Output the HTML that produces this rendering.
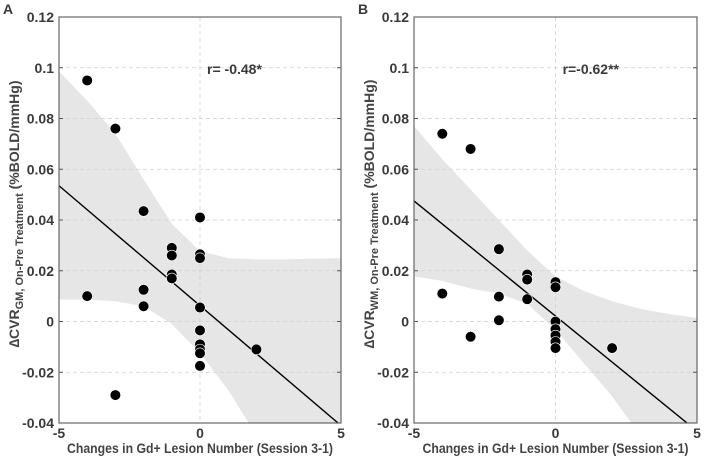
<!DOCTYPE html>
<html><head><meta charset="utf-8"><style>
html,body{margin:0;padding:0;background:#fff;overflow:hidden;}
svg{display:block;font-family:"Liberation Sans",sans-serif;}
.tick{font-size:14px;font-weight:bold;fill:#3a3a3a;}
.title{font-size:14px;font-weight:bold;fill:#444;}
</style></head><body>
<svg id="chart" width="704" height="461" viewBox="0 0 704 461"></svg>
<script>
// Panel A data
const aX = [-4,-3,-2,0,-1,-1,0,0,-1,-1,-4,-2,-2,0,0,0,0,0,2,0,-3];
const aY = [0.095,0.076,0.0435,0.041,0.029,0.026,0.0265,0.025,0.0185,0.017,0.010,0.0125,0.006,0.0055,-0.0035,-0.009,-0.011,-0.0125,-0.011,-0.0175,-0.029];
const aLine = [-5,0.0535,5,-0.041];
const bandXs = [-5,-4,-3,-2,-1,0,1,2,3,4,5];
const aUpper = [0.0986,0.087,0.074,0.056,0.0385,0.0277,0.025,0.0245,0.0245,0.0248,0.025];
const aLower = [0.0086,0.0086,0.008,0.006,-0.001,-0.0124,-0.027,-0.045,-0.065,-0.085,-0.105];
const aR = "r= -0.48*";
// Panel B data
const bX = [-4,-3,-2,-1,-1,0,0,-4,-2,-1,-2,-3,0,0,0,0,0,2];
const bY = [0.074,0.068,0.0285,0.0185,0.0165,0.0155,0.0135,0.011,0.0098,0.0088,0.0005,-0.006,0,-0.003,-0.0055,-0.008,-0.0105,-0.0105];
const bLine = [-5,0.0475,5,-0.0432];
const bUpper = [0.077,0.064,0.052,0.040,0.028,0.0178,0.012,0.008,0.005,0.003,0.0014];
const bLower = [0.0178,0.016,0.013,0.011,0.007,-0.0032,-0.0164,-0.0295,-0.045,-0.062,-0.08];
const bR = "r=-0.62**";
const yTicks = [-0.04,-0.02,0,0.02,0.04,0.06,0.08,0.1,0.12];
const yTickLabels = ["-0.04","-0.02","0","0.02","0.04","0.06","0.08","0.1","0.12"];
const xTicks = [-5,0,5];
const xTickLabels = ["-5","0","5"];

const NS="http://www.w3.org/2000/svg";
const svg=document.getElementById('chart');
function mk(tag,attrs,parent){const e=document.createElementNS(NS,tag);for(const k in attrs)e.setAttribute(k,attrs[k]);(parent||svg).appendChild(e);return e;}

function panel(id,L,R,T,B,xs,ys,line,up,lo,rtxt,letter,sub){
  const g=mk('g',{});
  
  
  const sx=v=>L+(v+5)/10*(R-L);
  const sy=v=>B-(v+0.04)/0.16*(B-T);
  const cid='clip'+id;
  const cp=mk('clipPath',{id:cid},g);mk('rect',{x:L,y:T,width:R-L,height:B-T},cp);
  let d='';
  bandXs.forEach((x,i)=>{d+=(i?'L':'M')+sx(x)+','+sy(up[i]);});
  for(let i=bandXs.length-1;i>=0;i--)d+='L'+sx(bandXs[i])+','+sy(lo[i]);
  const band=mk('path',{d:d+'Z',fill:'#e6e6e6','clip-path':'url(#'+cid+')'},g);
  
  
  yTicks.forEach(v=>{const l=mk('line',{x1:L,x2:R,y1:sy(v),y2:sy(v),stroke:'#cfcfcf','stroke-dasharray':'4,3','stroke-width':0.8},g);
    
    mk('line',{x1:L,x2:L+4,y1:sy(v),y2:sy(v),stroke:'#555'},g);mk('line',{x1:R-4,x2:R,y1:sy(v),y2:sy(v),stroke:'#555'},g);});
  xTicks.forEach(v=>{const l=mk('line',{x1:sx(v),x2:sx(v),y1:T,y2:B,stroke:'#cfcfcf','stroke-dasharray':'4,3','stroke-width':0.8},g);
    });
  const rl=mk('line',{x1:sx(line[0]),y1:sy(line[1]),x2:sx(line[2]),y2:sy(line[3]),stroke:'#000','stroke-width':1.4,'clip-path':'url(#'+cid+')'},g);
  
  
  xs.forEach((x,i)=>{const c=mk('circle',{cx:sx(x),cy:sy(ys[i]),r:5.3,fill:'#000',stroke:'#fff','stroke-width':0.6},g);
    
    });
  const fr=mk('rect',{x:L,y:T,width:R-L,height:B-T,fill:'none',stroke:'#666','stroke-width':1.2},g);
  
  yTicks.forEach((v,i)=>{const t=mk('text',{x:L-5,y:sy(v)+5,'text-anchor':'end',class:'tick'},g);t.textContent=yTickLabels[i];
    });
  xTicks.forEach((v,i)=>{const t=mk('text',{x:sx(v),y:438,'text-anchor':'middle',class:'tick'},g);t.textContent=xTickLabels[i];
    });
  const xt=mk('text',{x:(L+R)/2-133,y:453,class:'title','font-size':'14.5px',textLength:266,lengthAdjust:'spacingAndGlyphs'},g);
  xt.textContent='Changes in Gd+ Lesion Number (Session 3-1)';
  
  const rt=mk('text',{x:sx(0.25),y:sy(0.1)+6,class:'tick','font-size':'14px'},g);rt.textContent=rtxt;
  
  const lt=mk('text',{x:L-56,y:14,class:'tick','font-size':'17px',fill:'#000'},g);lt.textContent=letter;
  
  const yt=mk('text',{transform:'translate('+(L-40)+','+((T+B)/2-6)+') rotate(-90)','text-anchor':'middle',class:'title','font-size':'15px'},g);
  
  yt.innerHTML='<tspan>\u2206CVR</tspan><tspan font-size="11px" dy="4">'+sub+', On-Pre Treatment</tspan><tspan dy="-4" font-size="14px"> (%BOLD/mmHg)</tspan>';
}
panel('a',59,341,17,423,aX,aY,aLine,aUpper,aLower,aR,'A','GM');
panel('b',414,697,17,423,bX,bY,bLine,bUpper,bLower,bR,'B','WM');
</script>
</body></html>
